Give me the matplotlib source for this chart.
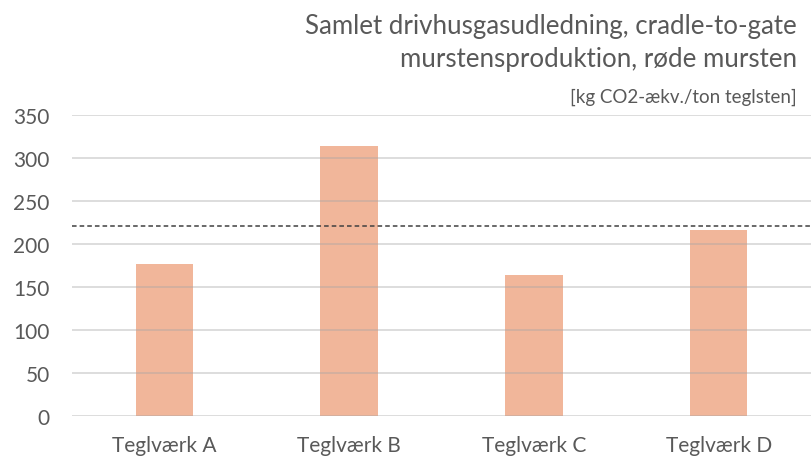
import matplotlib.pyplot as plt

# data
teglvaerker = ['Teglværk A', 'Teglværk B', 'Teglværk C', 'Teglværk D']
udledning = [176, 314, 164, 216]
gennemsnit = 221
yticks = [0, 50, 100, 150, 200, 250, 300, 350]

plt.rcParams['font.family'] = ['Lato', 'DejaVu Sans']
tekstfarve = '#595959'

fig = plt.figure(figsize=(8.11, 4.6), dpi=100)
ax = fig.add_axes([72 / 811, (460 - 417) / 460, (811 - 72) / 811, (417 - 115.6) / 460])

x = range(len(teglvaerker))
ax.bar(x, udledning, width=0.31, color='#F1B69A', zorder=2)
ax.axhline(gennemsnit, color='#404040', linestyle=(0, (3, 2)), linewidth=1.1, zorder=3)

ax.set_ylim(0, 350)
ax.set_xlim(-0.5, len(teglvaerker) - 0.5)
ax.set_yticks(yticks)
ax.set_xticks(list(x))
ax.set_xticklabels(teglvaerker)
ax.tick_params(axis='both', length=0, labelsize=15, colors=tekstfarve)
ax.tick_params(axis='x', pad=14)
ax.tick_params(axis='y', pad=16)

ax.grid(axis='y', color='#a6a6a6', alpha=0.45, linewidth=1.2, zorder=2.5)
ax.set_axisbelow(False)
for s in ax.spines.values():
    s.set_visible(False)

fig.text(797 / 811, 1 - 34 / 460, 'Samlet drivhusgasudledning, cradle-to-gate',
         ha='right', va='baseline', fontsize=18.6, color=tekstfarve)
fig.text(797 / 811, 1 - 67 / 460, 'murstensproduktion, røde mursten',
         ha='right', va='baseline', fontsize=18.6, color=tekstfarve)
fig.text(797 / 811, 1 - 103 / 460, '[kg CO2-ækv./ton teglsten]',
         ha='right', va='baseline', fontsize=13.5, color=tekstfarve)

fig.savefig('out.png', dpi=100)
